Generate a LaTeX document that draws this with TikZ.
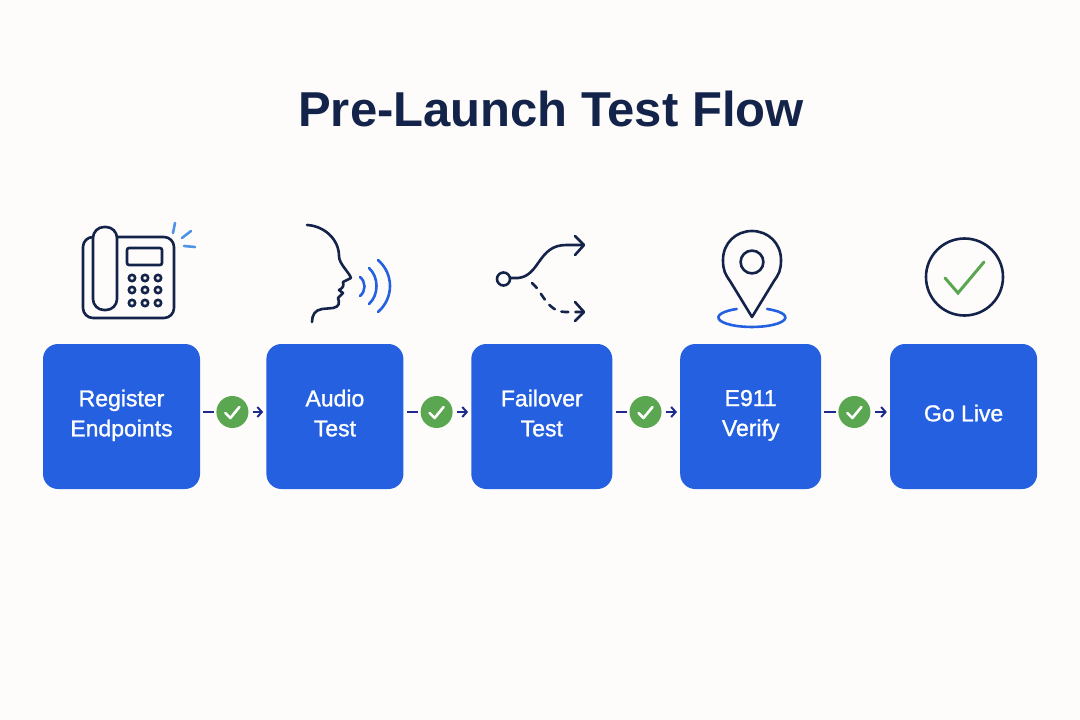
\documentclass[tikz,border=0pt]{standalone}
\usepackage{fontspec}
\setmainfont[BoldFont={Liberation Sans Bold}]{Liberation Sans}
\newfontfamily\stepfont[FakeBold=1.2]{Liberation Sans}
\usetikzlibrary{positioning}
\usetikzlibrary{arrows.meta}
\usetikzlibrary{backgrounds}
\definecolor{pagebg}{HTML}{FDFCFA}
\definecolor{stepblue}{HTML}{2460E0}
\definecolor{inknavy}{HTML}{14234A}
\definecolor{arrownavy}{HTML}{1E2A8C}
\definecolor{passgreen}{HTML}{5BA650}
\definecolor{rayblue}{HTML}{4F94E4}
\newcommand{\lineprop}{\rule[-7pt]{0pt}{23pt}}
\tikzset{stepbox/.style={fill=stepblue,rounded corners=15pt,minimum height=145pt,text=white,
             align=center,font=\stepfont\fontsize{23}{30}\selectfont,inner sep=0pt},
         passdot/.style={circle,fill=passgreen,minimum size=32pt,inner sep=0pt},
         link/.style={draw=arrownavy,line width=2pt},
         icon/.style={draw=inknavy,line width=2.6pt,line cap=round,line join=round},
         wave/.style={draw=stepblue,line width=2.6pt,line cap=round},
         }

\begin{document}
\begin{tikzpicture}[x=1pt,y=-1pt]
\useasboundingbox (0,0) rectangle (1080,720);
\fill[pagebg] (0,0) rectangle (1080,720);
\node[anchor=base] (title) at (551,126) {\fontsize{49}{60}\selectfont\bfseries\color{inknavy}Pre-Launch Test Flow};
% steps
\node[stepbox,minimum width=157pt] (register) at (121.5,416.5) {\lineprop Register\\\lineprop Endpoints};
\node[stepbox,minimum width=137pt,right=66pt of register] (audio) {\lineprop Audio\\\lineprop Test};
\node[stepbox,minimum width=141pt,right=67.5pt of audio] (failover) {\lineprop Failover\\\lineprop Test};
\node[stepbox,minimum width=141pt,right=67.5pt of failover] (verify) {\lineprop E911\\\lineprop Verify};
\node[stepbox,minimum width=147pt,right=68.5pt of verify] (golive) {\lineprop Go Live};
% soft shadows under the steps
\begin{scope}[on background layer]
\fill[pagebg] (0,0) rectangle (1080,720);
\foreach \n in {register,audio,failover,verify,golive}
  \foreach \g in {12,10,8,6,4,2}
    \fill[black,opacity=.016,rounded corners=17pt]
      ([shift={(-\g,\g+4)}]\n.south west) rectangle ([shift={(\g,-\g+4)}]\n.north east);
\end{scope}
% checks and links
\node[passdot,right=16pt of register,yshift=4.5pt] (pass1) {};
\node[passdot,right=33pt of audio.east,anchor=center,yshift=4.5pt] (pass2) {};
\node[passdot,right=33pt of failover.east,anchor=center,yshift=4.5pt] (pass3) {};
\node[passdot,right=33pt of verify.east,anchor=center,yshift=4.5pt] (pass4) {};
\foreach \a/\c/\b in {register/pass1/audio,audio/pass2/failover,failover/pass3/verify,verify/pass4/golive}{
  \draw[link,shorten <=3pt,shorten >=2pt] (\c -| \a.east) -- (\c);
  \draw[link,shorten <=4pt,shorten >=3pt,-{Straight Barb[length=4.5pt,width=10pt]}] (\c) -- (\c -| \b.west);
  \draw[white,line width=2.6pt,line cap=round,line join=round]
    ([shift={(-7,1)}]\c.center) -- ([shift={(-2,6)}]\c.center) -- ([shift={(7,-5)}]\c.center);
}
% phone
\draw[icon,rounded corners=10pt] (83,237) rectangle (174,318);
\draw[icon,fill=pagebg,rounded corners=11pt] (93,227) rectangle (117,310);
\draw[icon,rounded corners=2pt] (127,248) rectangle (162,265);
\foreach \x in {132,145,158}
  \foreach \y in {278,290,303}
    \draw[icon] (\x,\y) circle (3.2);
\draw[draw=rayblue,line width=2.6pt,line cap=round]
  (175,223) -- (173,233) (191,231) -- (182,238) (195,247) -- (184,246);
% face
\draw[icon] (307,225) .. controls (325,226) and (339,240) .. (339,256)
  .. controls (339,264) and (349,272) .. (351,278) -- (343,282)
  .. controls (344,286) and (343,288) .. (339,290) -- (343,293)
  .. controls (341,296) and (339,296) .. (338,298)
  .. controls (340,303) and (339,307) .. (333,308) -- (322,309)
  .. controls (315,310) and (312,315) .. (312,322);
\draw[wave] (360,277) .. controls (366,282) and (366,291) .. (360,296);
\draw[wave] (369,268) .. controls (379,277) and (379,295) .. (369,304);
\draw[wave] (378,260) .. controls (394,274) and (394,298) .. (378,312);
% split
\draw[icon] (503.5,279) circle (6.5);
\draw[icon] (510,278) -- (518,278) .. controls (540,276) and (538,245) .. (566,245) -- (583,245);
\draw[icon] (575,236) -- (584,245) -- (575,255);
\draw[icon,dash pattern=on 7pt off 7pt] (532,283) .. controls (543,292) and (546,311) .. (565,312) -- (583,312);
\draw[icon] (575,302) -- (584,312) -- (575,321);
% pin
\draw[icon] (752,317) -- (730,281) .. controls (725,274) and (723,270) .. (723,260)
  .. controls (723,243) and (736,231) .. (752,231)
  .. controls (768,231) and (781,243) .. (781,260)
  .. controls (781,270) and (779,274) .. (774,281) -- cycle;
\draw[icon] (752,262) circle (11.4);
\draw[wave] (767.1,309) arc[start angle=-63,end angle=243,x radius=33.5,y radius=9.5];
% done
\draw[icon] (964.5,277) circle (38.5);
\draw[draw=passgreen,line width=3pt,line cap=round] (945,278) -- (958,293) -- (984,262);
\end{tikzpicture}
\end{document}
